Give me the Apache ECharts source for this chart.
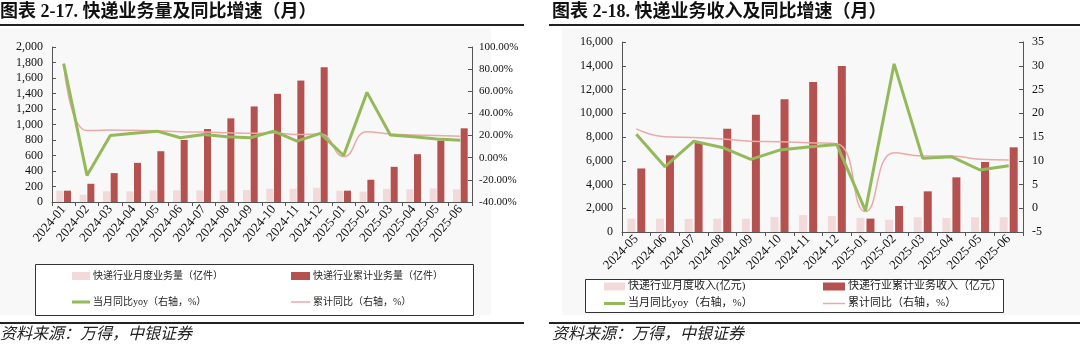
<!DOCTYPE html>
<html>
<head>
<meta charset="utf-8">
<script src="https://cdn.jsdelivr.net/npm/echarts@6/dist/echarts.min.js"></script>
<style>
html,body{margin:0;padding:0;background:#fff;}
#c{width:1080px;height:346px;}
</style>
</head>
<body>
<div id="c"></div>
<script>
// ---- Left chart data (快递业务量) ----
const categoriesL = ['2024-01','2024-02','2024-03','2024-04','2024-05','2024-06','2024-07','2024-08','2024-09','2024-10','2024-11','2024-12','2025-01','2025-02','2025-03','2025-04','2025-05','2025-06'];
const monthlyVolume = [146, 94, 137, 137, 150, 150, 150, 150, 154, 171, 171, 184, 146, 135, 171, 165, 175, 165];
const cumulativeVolume = [146, 235, 373, 505, 655, 801, 942, 1079, 1233, 1396, 1567, 1739, 146, 287, 454, 617, 792, 951];
const monthlyYoyL = [85, -16, 20, 22, 24, 18, 21, 19, 18, 24, 15, 22, 2, 59, 20.5, 19, 17, 15.7];
const cumYoyL = [85, 24.5, 25, 24.7, 24.4, 23.5, 23.2, 22.6, 22, 22.3, 21, 21.5, 1, 23.5, 21.4, 20.5, 20, 19.3];

// ---- Right chart data (快递业务收入) ----
const categoriesR = ['2024-05','2024-06','2024-07','2024-08','2024-09','2024-10','2024-11','2024-12','2025-01','2025-02','2025-03','2025-04','2025-05','2025-06'];
const monthlyRevenue = [1130, 1130, 1100, 1130, 1130, 1270, 1420, 1350, 1190, 1030, 1240, 1180, 1240, 1240];
const cumulativeRevenue = [5350, 6456, 7579, 8700, 9880, 11172, 12630, 13979, 1128, 2190, 3425, 4603, 5895, 7130];
const monthlyYoyR = [15.6, 8.75, 14.1, 12.8, 10.3, 12.25, 12.9, 13.4, -0.5, 30.4, 10.5, 10.85, 8.05, 8.96];
const cumYoyR = [16.7, 15.05, 14.9, 14.6, 14.1, 14.0, 13.8, 13.6, -0.7, 11.7, 11.0, 11.0, 10.3, 10.15];

const nameLightL = '快递行业月度业务量（亿件）';
const nameDarkL = '快递行业累计业务量（亿件）';
const nameLightR = '快递行业月度收入(亿元)';
const nameDarkR = '快递行业累计业务收入（亿元）';
const nameYoy = '当月同比yoy（右轴，%）';
const nameCum = '累计同比（右轴，%）';

const C_DARK = '#b5524f';
const C_LIGHT = '#f3dada';
const C_GREEN = '#93b95a';
const C_PINK = '#eba9a8';
const FONT = "'Liberation Serif', 'Noto Sans CJK SC', serif";
const AX = '#555';

const chart = echarts.init(document.getElementById('c'));

function fmtThousands(v){ return String(v).replace(/\B(?=(\d{3})+(?!\d))/g, ','); }

function legendItem(name, left, top, w, h, fs){
  return {
    data:[{name:name, icon:'rect'}], left:left, top:top, padding:0,
    itemWidth:w, itemHeight:h, itemGap:0, selectedMode:false,
    textStyle:{fontFamily:FONT, fontSize:fs, color:'#222', padding:[0,0,0,-2]}
  };
}

const axisLineStyle = {show:true, lineStyle:{color:AX, width:1}};

const option = {
  animation:false,
  backgroundColor:'#fff',
  graphic:[
    {type:'rect', z:-1, shape:{x:0, y:28, width:491, height:287}, style:{fill:'#f8f8f8'}},
    {type:'rect', z:-1, shape:{x:562, y:28, width:518, height:287}, style:{fill:'#f8f8f8'}},
    {type:'text', left:0, top:3, style:{text:'图表 2-17. 快递业务量及同比增速（月）', fontFamily:FONT, fontSize:18, fontWeight:'bold', fill:'#111'}},
    {type:'text', left:552, top:3, style:{text:'图表 2-18. 快递业务收入及同比增速（月）', fontFamily:FONT, fontSize:18, fontWeight:'bold', fill:'#111'}},
    {type:'line', shape:{x1:0, y1:25, x2:524, y2:25}, style:{stroke:'#222', lineWidth:2}},
    {type:'line', shape:{x1:549, y1:25, x2:1080, y2:25}, style:{stroke:'#222', lineWidth:2}},
    {type:'line', shape:{x1:0, y1:323, x2:524, y2:323}, style:{stroke:'#222', lineWidth:2}},
    {type:'line', shape:{x1:549, y1:323, x2:1080, y2:323}, style:{stroke:'#222', lineWidth:2}},
    {type:'text', left:0, top:327, style:{text:'资料来源：万得，中银证券', fontFamily:FONT, fontSize:16, fontStyle:'italic', fill:'#222'}},
    {type:'text', left:552, top:327, style:{text:'资料来源：万得，中银证券', fontFamily:FONT, fontSize:16, fontStyle:'italic', fill:'#222'}},
    {type:'rect', z:0, shape:{x:35.5, y:264.5, width:438, height:51}, style:{fill:'#fff', stroke:'#333', lineWidth:1}},
    {type:'rect', z:0, shape:{x:585.5, y:279.5, width:418, height:33}, style:{fill:'#fff', stroke:'#333', lineWidth:1}}
  ],
  legend:[
    legendItem(nameLightL, 72, 271, 18, 8, 10),
    legendItem(nameDarkL, 291, 271, 19, 8, 10),
    legendItem(nameYoy, 72, 297, 18, 3, 10),
    legendItem(nameCum, 291, 297, 19, 1.5, 10),
    legendItem(nameLightR, 604, 281, 21, 8, 11),
    legendItem(nameDarkR, 823, 281, 22, 8, 11),
    legendItem(nameYoy, 604, 298, 21, 3, 11),
    legendItem(nameCum, 823, 298, 22, 1.5, 11)
  ],
  grid:[
    {left:52, right:608, top:47, height:155, containLabel:false},
    {left:622, right:57, top:42, height:190, containLabel:false}
  ],
  xAxis:[
    {type:'category', gridIndex:0, data:categoriesL, boundaryGap:true,
     axisLine:axisLineStyle, axisTick:{show:true, length:4, lineStyle:{color:AX}},
     axisLabel:{interval:0, rotate:50, fontFamily:FONT, fontSize:13, color:'#111', margin:5}},
    {type:'category', gridIndex:1, data:categoriesR, boundaryGap:true,
     axisLine:axisLineStyle, axisTick:{show:true, length:4, lineStyle:{color:AX}},
     axisLabel:{interval:0, rotate:45, fontFamily:FONT, fontSize:13, color:'#111', margin:5}}
  ],
  yAxis:[
    {type:'value', gridIndex:0, min:0, max:2000, interval:200, position:'left',
     axisLine:axisLineStyle, axisTick:{show:true, inside:true, length:4, lineStyle:{color:AX}}, splitLine:{show:false},
     axisLabel:{formatter:fmtThousands, fontFamily:FONT, fontSize:12, color:'#111', margin:9}},
    {type:'value', gridIndex:0, min:-40, max:100, interval:20, position:'right',
     axisLine:axisLineStyle, axisTick:{show:true, inside:true, length:4, lineStyle:{color:AX}}, splitLine:{show:false},
     axisLabel:{formatter:v=>v.toFixed(2)+'%', fontFamily:FONT, fontSize:11, color:'#111', margin:7}},
    {type:'value', gridIndex:1, min:0, max:16000, interval:2000, position:'left',
     axisLine:axisLineStyle, axisTick:{show:true, inside:true, length:4, lineStyle:{color:AX}}, splitLine:{show:false},
     axisLabel:{formatter:fmtThousands, fontFamily:FONT, fontSize:12, color:'#111', margin:9}},
    {type:'value', gridIndex:1, min:-5, max:35, interval:5, position:'right',
     axisLine:axisLineStyle, axisTick:{show:true, inside:true, length:4, lineStyle:{color:AX}}, splitLine:{show:false},
     axisLabel:{fontFamily:FONT, fontSize:12, color:'#111', margin:9}}
  ],
  series:[
    {name:nameLightL, type:'bar', xAxisIndex:0, yAxisIndex:0, data:monthlyVolume, barWidth:7, barGap:'10%', itemStyle:{color:C_LIGHT}},
    {name:nameDarkL, type:'bar', xAxisIndex:0, yAxisIndex:0, data:cumulativeVolume, barWidth:7, barGap:'10%', itemStyle:{color:C_DARK}},
    {name:nameYoy, type:'line', xAxisIndex:0, yAxisIndex:1, data:monthlyYoyL, symbol:'none', lineStyle:{color:C_GREEN, width:3}, itemStyle:{color:C_GREEN}, z:4},
    {name:nameCum, type:'line', xAxisIndex:0, yAxisIndex:1, data:cumYoyL, symbol:'none', smooth:0.5, lineStyle:{color:C_PINK, width:1.5}, itemStyle:{color:C_PINK}, z:3},
    {name:nameLightR, type:'bar', xAxisIndex:1, yAxisIndex:2, data:monthlyRevenue, barWidth:8, barGap:'25%', itemStyle:{color:C_LIGHT}},
    {name:nameDarkR, type:'bar', xAxisIndex:1, yAxisIndex:2, data:cumulativeRevenue, barWidth:8, barGap:'25%', itemStyle:{color:C_DARK}},
    {name:nameYoy, type:'line', xAxisIndex:1, yAxisIndex:3, data:monthlyYoyR, symbol:'none', lineStyle:{color:C_GREEN, width:3}, itemStyle:{color:C_GREEN}, z:4},
    {name:nameCum, type:'line', xAxisIndex:1, yAxisIndex:3, data:cumYoyR, symbol:'none', smooth:0.5, lineStyle:{color:C_PINK, width:1.5}, itemStyle:{color:C_PINK}, z:3}
  ]
};
chart.setOption(option);
</script>
</body>
</html>
